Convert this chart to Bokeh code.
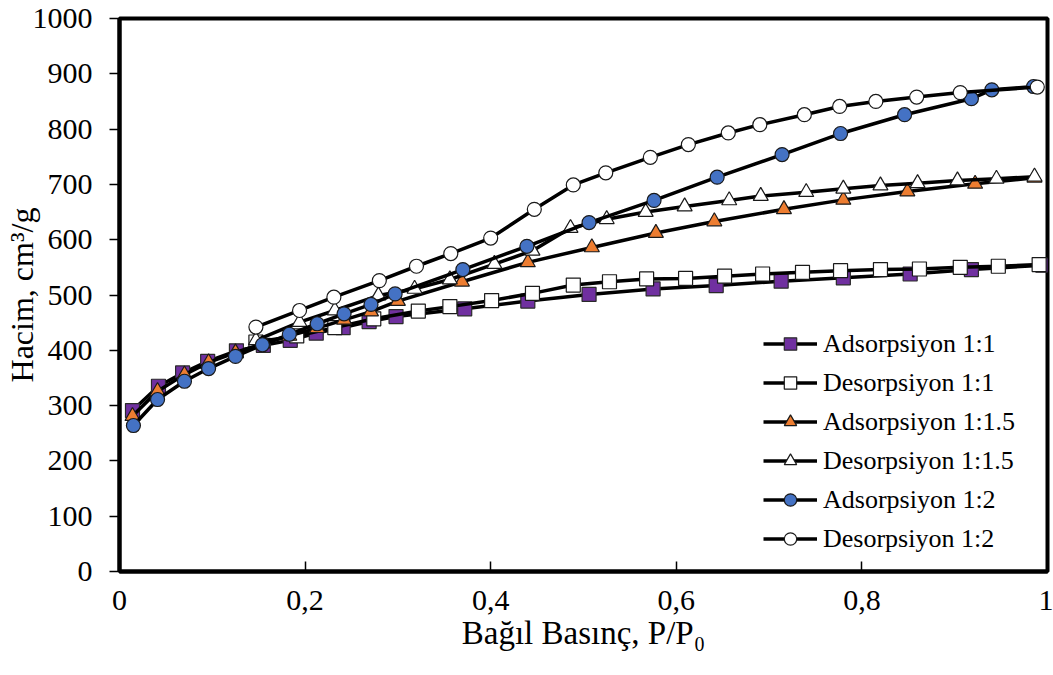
from bokeh.plotting import figure
from bokeh.models import Range1d, FixedTicker, Legend, LegendItem
from bokeh.embed import file_html
from bokeh.resources import INLINE

# ---- data ----
ads11_x = [0.014, 0.042, 0.068, 0.095, 0.126, 0.155, 0.184, 0.212, 0.241, 0.269, 0.298, 0.372, 0.440, 0.506, 0.575, 0.643, 0.713, 0.780, 0.852, 0.918, 0.995]
ads11_y = [291, 335, 359, 380, 399, 409, 418, 431, 441, 452, 461, 475, 489, 501, 511, 517, 525, 531, 538, 546, 554]

des11_x = [0.147, 0.191, 0.232, 0.274, 0.322, 0.356, 0.401, 0.445, 0.489, 0.528, 0.568, 0.610, 0.652, 0.693, 0.736, 0.777, 0.820, 0.862, 0.906, 0.947, 0.991]
des11_y = [415, 426, 441, 457, 471, 479, 490, 503, 518, 524, 529, 530, 534, 538, 541, 544, 546, 547, 550, 552, 555]

ads115_x = [0.014, 0.041, 0.070, 0.096, 0.125, 0.154, 0.183, 0.213, 0.242, 0.271, 0.300, 0.369, 0.440, 0.509, 0.578, 0.641, 0.716, 0.780, 0.849, 0.922, 0.986]
ads115_y = [281, 326, 356, 378, 396, 412, 426, 440, 455, 470, 489, 524, 559, 586, 612, 633, 655, 672, 687, 701, 712]

des115_x = [0.147, 0.194, 0.232, 0.279, 0.318, 0.356, 0.404, 0.445, 0.486, 0.525, 0.567, 0.609, 0.657, 0.691, 0.740, 0.780, 0.820, 0.860, 0.903, 0.945, 0.986]
des115_y = [418, 451, 472, 499, 511, 528, 556, 580, 621, 637, 650, 660, 671, 679, 686, 692, 698, 702, 707, 710, 714]

ads12_x = [0.015, 0.041, 0.070, 0.096, 0.125, 0.154, 0.183, 0.213, 0.242, 0.271, 0.297, 0.370, 0.439, 0.506, 0.576, 0.644, 0.714, 0.777, 0.846, 0.918, 0.940, 0.985]
ads12_y = [264, 311, 344, 367, 389, 410, 429, 448, 466, 483, 502, 546, 588, 631, 671, 713, 754, 792, 826, 855, 871, 877]

des12_x = [0.147, 0.194, 0.231, 0.280, 0.320, 0.357, 0.400, 0.447, 0.489, 0.524, 0.572, 0.613, 0.656, 0.690, 0.738, 0.776, 0.815, 0.859, 0.906, 0.989]
des12_y = [442, 472, 496, 526, 552, 575, 603, 655, 699, 721, 749, 772, 793, 808, 826, 841, 850, 858, 866, 876]

series_labels = ["Adsorpsiyon 1:1", "Desorpsiyon 1:1", "Adsorpsiyon 1:1.5",
                 "Desorpsiyon 1:1.5", "Adsorpsiyon 1:2", "Desorpsiyon 1:2"]

x_ticks = [0, 0.2, 0.4, 0.6, 0.8, 1]
x_tick_labels = ["0", "0,2", "0,4", "0,6", "0,8", "1"]
y_ticks = [0, 100, 200, 300, 400, 500, 600, 700, 800, 900, 1000]

x_title = "Bağıl Basınç, P/P₀"
y_title = "Hacim, cm³/g"

FONT = "Liberation Serif"

p = figure(width=1053, height=675, x_range=Range1d(0, 1), y_range=Range1d(0, 1000),
           output_backend="svg", toolbar_location=None,
           min_border_left=118, min_border_right=6, min_border_top=18, min_border_bottom=104)

p.background_fill_color = "white"
p.border_fill_color = "white"
p.outline_line_color = "black"
p.outline_line_width = 4
p.xgrid.visible = False
p.ygrid.visible = False

xa = p.xaxis[0]
xa.ticker = FixedTicker(ticks=x_ticks)
xa.major_label_overrides = {t: l for t, l in zip(x_ticks, x_tick_labels)}
xa.axis_line_width = 4
xa.major_tick_in = 10
xa.major_tick_out = 0
xa.major_tick_line_width = 1.5
xa.minor_tick_line_color = None
xa.major_label_text_font = FONT
xa.major_label_text_font_size = "30px"
xa.major_label_text_color = "black"
xa.major_label_standoff = 19
xa.axis_label = x_title
xa.axis_label_text_font = FONT
xa.axis_label_text_font_size = "33px"
xa.axis_label_text_font_style = "normal"
xa.axis_label_text_color = "black"
xa.axis_label_standoff = 2

ya = p.yaxis[0]
ya.ticker = FixedTicker(ticks=y_ticks)
ya.axis_line_width = 4
ya.major_tick_in = 0
ya.major_tick_out = 10
ya.major_tick_line_width = 1.5
ya.minor_tick_line_color = None
ya.major_label_text_font = FONT
ya.major_label_text_font_size = "30px"
ya.major_label_text_color = "black"
ya.major_label_standoff = 17
ya.axis_label = y_title
ya.axis_label_text_font = FONT
ya.axis_label_text_font_size = "32px"
ya.axis_label_text_font_style = "normal"
ya.axis_label_text_color = "black"
ya.axis_label_standoff = -10

specs = [
    (ads11_x, ads11_y, "square", "#7030A0", "#2a2a2a"),
    (des11_x, des11_y, "square", "white", "#1a1a1a"),
    (ads115_x, ads115_y, "triangle", "#ED7D31", "#1a1a1a"),
    (des115_x, des115_y, "triangle", "white", "#1a1a1a"),
    (ads12_x, ads12_y, "circle", "#4472C4", "#1a1a1a"),
    (des12_x, des12_y, "circle", "white", "#1a1a1a"),
]

items = []
for (xs, ys, marker, fill, edge), lab in zip(specs, series_labels):
    lr = p.line(xs, ys, line_color="black", line_width=3.5)
    sz = 15 if marker == "triangle" else 14
    sr = p.scatter(xs, ys, marker=marker, size=sz, fill_color=fill,
                   line_color=edge, line_width=1.2)
    items.append(LegendItem(label=lab, renderers=[lr, sr]))

legend = Legend(items=items, location=(639, 12), orientation="vertical",
                glyph_width=54, glyph_height=31, label_height=31, spacing=8,
                padding=5, margin=0, label_standoff=6,
                label_text_font=FONT, label_text_font_size="26px",
                label_text_color="black",
                border_line_alpha=0, background_fill_alpha=0)
p.add_layout(legend, "center")

open("out.html", "w").write(file_html(p, INLINE))
